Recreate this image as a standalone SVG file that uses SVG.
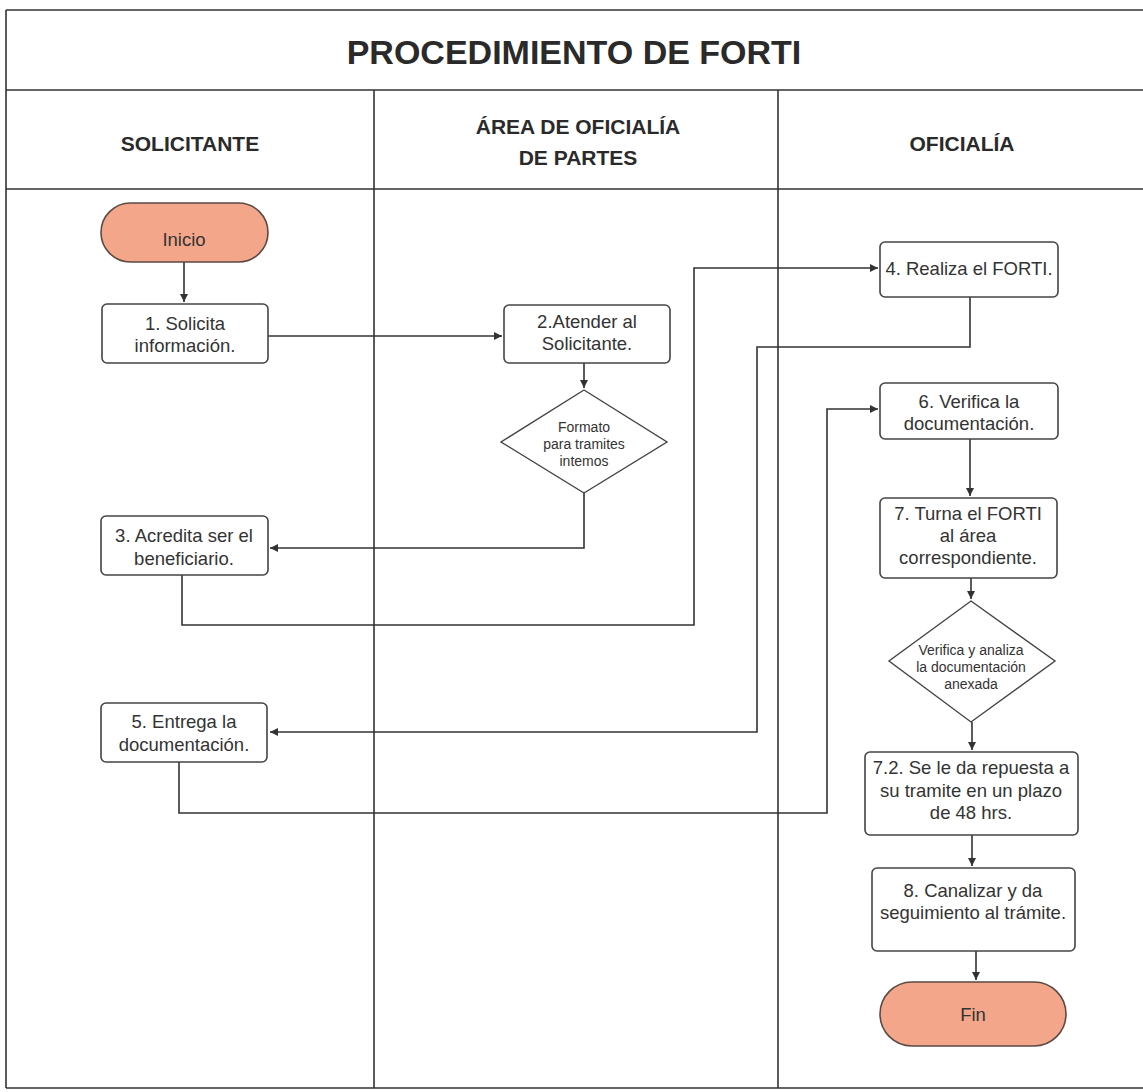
<svg xmlns="http://www.w3.org/2000/svg" width="1143" height="1092" viewBox="0 0 1143 1092">
<style>
  .frame { stroke: #333; stroke-width: 1.6; fill: none; }
  .box { fill: #ffffff; stroke: #444; stroke-width: 1.6; }
  .term { fill: #F4A68B; stroke: #5a4a44; stroke-width: 1.6; }
  .dia { fill: #ffffff; stroke: #444; stroke-width: 1.4; }
  .t { font-family: "Liberation Sans", Arial, sans-serif; font-size: 18.5px; fill: #333; text-anchor: middle; }
  .ts { font-family: "Liberation Sans", Arial, sans-serif; font-size: 14px; fill: #333; text-anchor: middle; }
  .title { font-family: "Liberation Sans", Arial, sans-serif; font-size: 34px; font-weight: bold; fill: #2a2a2a; text-anchor: middle; }
  .head { font-family: "Liberation Sans", Arial, sans-serif; font-size: 21px; font-weight: bold; fill: #2a2a2a; text-anchor: middle; }
  .conn { stroke: #333; stroke-width: 1.6; fill: none; }
</style>
<defs>
  <marker id="arr" viewBox="0 0 10 10" refX="10" refY="5" markerWidth="8" markerHeight="8" markerUnits="userSpaceOnUse" orient="auto">
    <path d="M0,0 L10,5 L0,10 z" fill="#333"/>
  </marker>
</defs>
<rect width="1143" height="1092" fill="#ffffff"/>

<g id="table">
  <path class="frame" d="M6,10 H1143 M6,90 H1143 M6,189 H1143 M6,1088 H1143 M6,10 V1088 M374,90 V1088 M778,90 V1088"/>
  <text class="title" x="574" y="64">PROCEDIMIENTO DE FORTI</text>
  <text class="head" x="190" y="151">SOLICITANTE</text>
  <text class="head" x="578" y="134">ÁREA DE OFICIALÍA</text>
  <text class="head" x="578" y="165">DE PARTES</text>
  <text class="head" x="962" y="151">OFICIALÍA</text>
</g>

<g id="connectors">
  <path class="conn" d="M184,262 V302" marker-end="url(#arr)"/>
  <path class="conn" d="M268,336 H502" marker-end="url(#arr)"/>
  <path class="conn" d="M584,363 V388" marker-end="url(#arr)"/>
  <path class="conn" d="M584,493 V548 H270" marker-end="url(#arr)"/>
  <path class="conn" d="M182,575 V625 H694 V268 H878" marker-end="url(#arr)"/>
  <path class="conn" d="M970,297 V347 H757 V732 H270" marker-end="url(#arr)"/>
  <path class="conn" d="M179,762 V813 H827 V409 H878" marker-end="url(#arr)"/>
  <path class="conn" d="M970,439 V496" marker-end="url(#arr)"/>
  <path class="conn" d="M971,578 V599" marker-end="url(#arr)"/>
  <path class="conn" d="M972,722 V750" marker-end="url(#arr)"/>
  <path class="conn" d="M972,835 V866" marker-end="url(#arr)"/>
  <path class="conn" d="M976,951 V980" marker-end="url(#arr)"/>
</g>

<g id="inicio">
  <rect class="term" x="101" y="203" width="167" height="59" rx="29.5"/>
  <text class="t" x="184" y="246">Inicio</text>
</g>
<g id="n1">
  <rect class="box" x="102" y="304" width="166" height="59" rx="5"/>
  <text class="t" x="185" y="330">1. Solicita</text>
  <text class="t" x="185" y="352">información.</text>
</g>
<g id="n2">
  <rect class="box" x="504" y="305" width="166" height="58" rx="5"/>
  <text class="t" x="587" y="328">2.Atender al</text>
  <text class="t" x="587" y="350">Solicitante.</text>
</g>
<g id="d1">
  <polygon class="dia" points="584,390 667,442 584,493 501,442"/>
  <text class="ts" x="584" y="432">Formato</text>
  <text class="ts" x="584" y="449">para tramites</text>
  <text class="ts" x="584" y="466">intemos</text>
</g>
<g id="n3">
  <rect class="box" x="101" y="516" width="167" height="59" rx="5"/>
  <text class="t" x="184" y="542">3. Acredita ser el</text>
  <text class="t" x="184" y="565">beneficiario.</text>
</g>
<g id="n4">
  <rect class="box" x="880" y="242" width="178" height="55" rx="5"/>
  <text class="t" x="969" y="275">4. Realiza el FORTI.</text>
</g>
<g id="n5">
  <rect class="box" x="101" y="703" width="166" height="59" rx="5"/>
  <text class="t" x="184" y="728">5. Entrega la</text>
  <text class="t" x="184" y="751">documentación.</text>
</g>
<g id="n6">
  <rect class="box" x="880" y="383" width="178" height="56" rx="5"/>
  <text class="t" x="969" y="408">6. Verifica la</text>
  <text class="t" x="969" y="430">documentación.</text>
</g>
<g id="n7">
  <rect class="box" x="880" y="498" width="177" height="80" rx="5"/>
  <text class="t" x="968" y="520">7. Turna el FORTI</text>
  <text class="t" x="968" y="542">al área</text>
  <text class="t" x="968" y="564">correspondiente.</text>
</g>
<g id="d2">
  <polygon class="dia" points="971,601 1055,661 971,722 889,661"/>
  <text class="ts" x="971" y="655">Verifica y analiza</text>
  <text class="ts" x="971" y="672">la documentación</text>
  <text class="ts" x="971" y="689">anexada</text>
</g>
<g id="n72">
  <rect class="box" x="865" y="752" width="213" height="83" rx="5"/>
  <text class="t" x="971" y="774">7.2. Se le da repuesta a</text>
  <text class="t" x="971" y="797">su tramite en un plazo</text>
  <text class="t" x="971" y="819">de 48 hrs.</text>
</g>
<g id="n8">
  <rect class="box" x="872" y="868" width="203" height="83" rx="5"/>
  <text class="t" x="973" y="897">8. Canalizar y da</text>
  <text class="t" x="973" y="919">seguimiento al trámite.</text>
</g>
<g id="fin">
  <rect class="term" x="880" y="982" width="186" height="64" rx="32"/>
  <text class="t" x="973" y="1021">Fin</text>
</g>
</svg>
